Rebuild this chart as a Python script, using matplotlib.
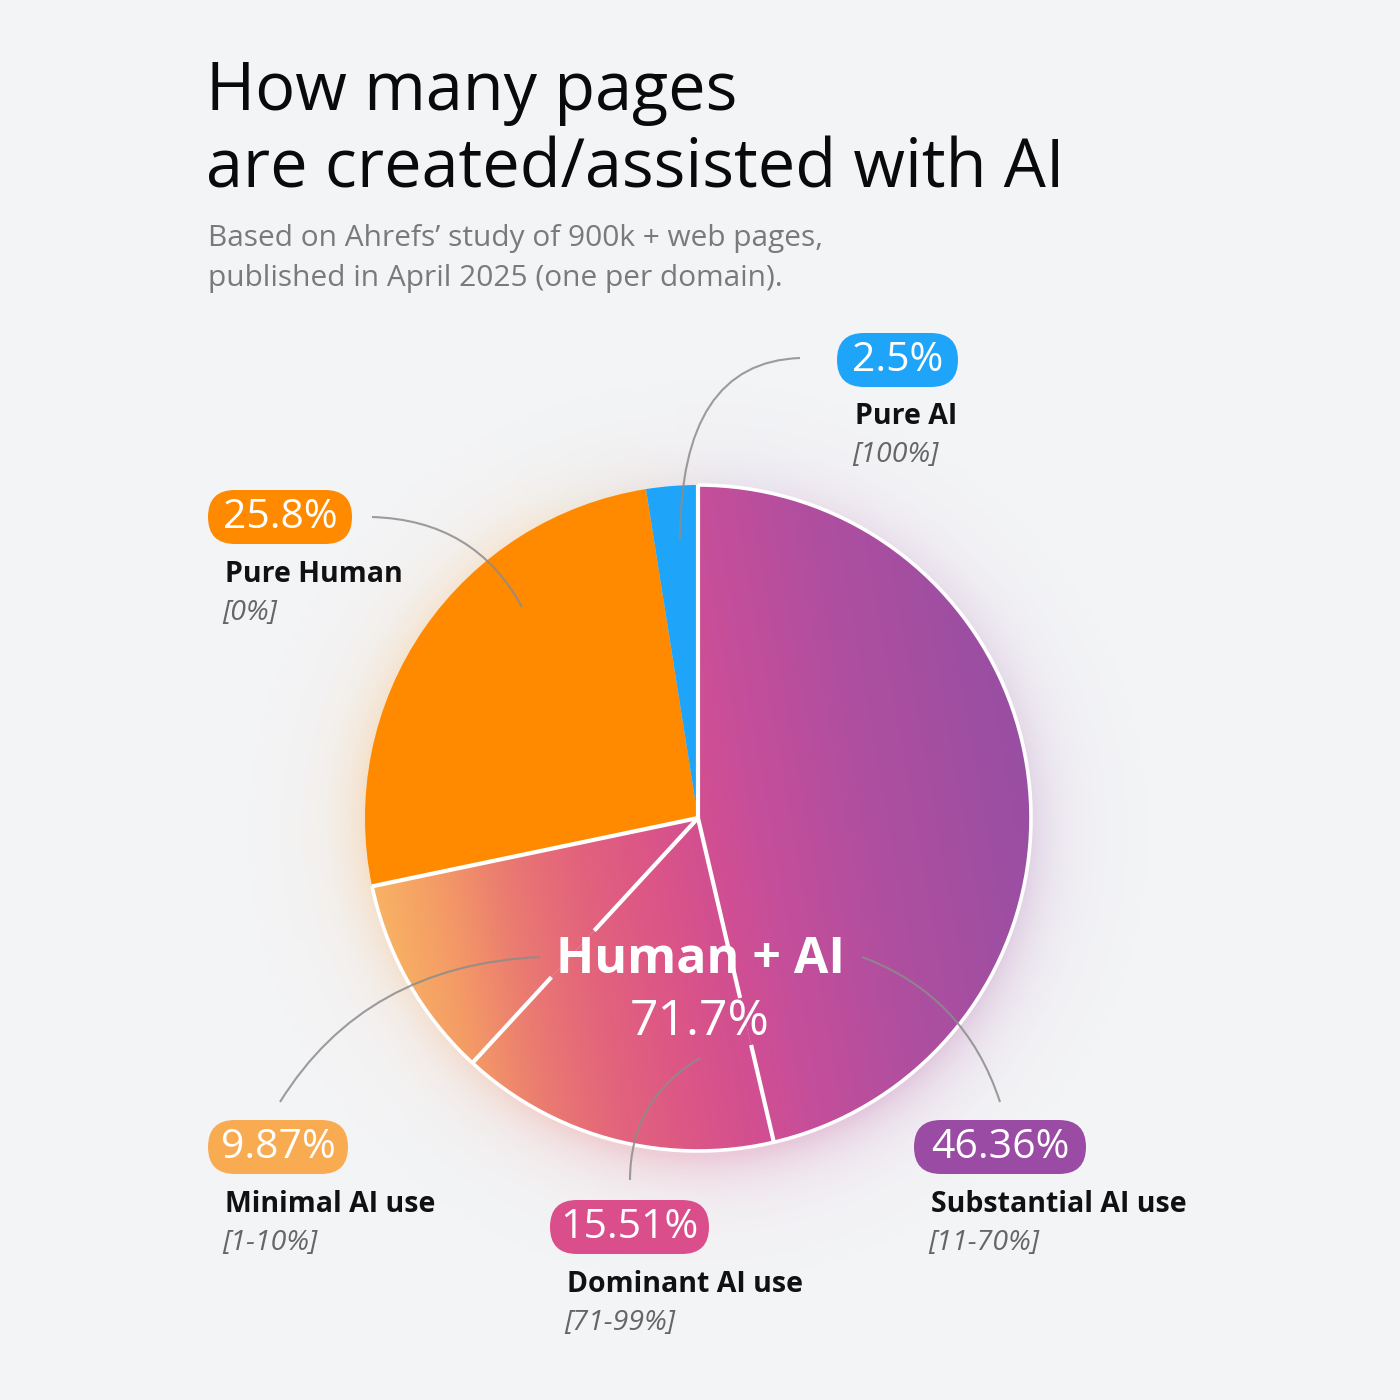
import numpy as np
import matplotlib.pyplot as plt
from matplotlib.colors import LinearSegmentedColormap, to_rgb
from matplotlib.patches import FancyBboxPatch, Arc, PathPatch
from matplotlib.path import Path

# data (clockwise from 12 o'clock)
labels = ['Substantial AI use', 'Dominant AI use', 'Minimal AI use', 'Pure Human', 'Pure AI']
ranges = ['[11-70%]', '[71-99%]', '[1-10%]', '[0%]', '[100%]']
shares = [46.36, 15.51, 9.87, 25.8, 2.5]
badge_txt = ['46.36%', '15.51%', '9.87%', '25.8%', '2.5%']
human_ai_label = 'Human + AI'
human_ai_total = '71.7%'
title = 'How many pages\nare created/assisted with AI'
subtitle = ['Based on Ahrefs\u2019 study of 900k + web pages,',
            'published in April 2025 (one per domain).']

badge_colors = ['#9A4BA4', '#D94E8B', '#F9AB52', '#FF8A00', '#1EA5F9']
slice_colors = ['#B04E9A', '#D94E8B', '#F2A060', '#FF8A00', '#1EA5F9']
n_grad = 3  # first three slices are "Human + AI" and get the gradient

BG = '#F3F4F6'
FONT = ['Open Sans', 'DejaVu Sans']
W = H = 1400


def Y(y):
    # pixel rows (top down) -> data y
    return H - y


fig = plt.figure(figsize=(14, 14), dpi=100, facecolor=BG)
ax = fig.add_axes([0, 0, 1, 1])
ax.set_facecolor(BG)

cx, cy, R = 698, Y(818), 333
grad = LinearSegmentedColormap.from_list(
    'hai', [(0, '#F8B263'), (0.1, '#F49A66'), (0.2, '#EA7A71'), (0.3, '#E3647C'),
            (0.42, '#DB5587'), (0.52, '#D04E93'), (0.6, '#C44F9B'),
            (0.75, '#B04E9F'), (1, '#984EA3')])
g_ang = np.radians(10)  # gradient runs left->right, tilted slightly upward

frac = np.array(shares) / np.sum(shares)
cum = np.concatenate([[0], np.cumsum(frac)]) * 360  # clockwise from top
bound = 90 - cum  # screen angles of slice boundaries


def grad_t(x, y):
    return ((x - cx) * np.cos(g_ang) + (y - cy) * np.sin(g_ang)) / (2 * R) + 0.5


# rim colour by angle, smoothed, for a soft glow under the pie
ang = np.arange(720) / 2.0
phi = np.mod(90 - ang, 360)
idx = np.clip(np.searchsorted(cum, phi, side='right') - 1, 0, len(shares) - 1)
rim = grad(grad_t(cx + R * np.cos(np.radians(ang)), cy + R * np.sin(np.radians(ang))))[:, :3]
for k in range(n_grad, len(shares)):
    rim[idx == k] = to_rgb(slice_colors[k])
ker = np.ones(80) / 80
rim = np.stack([np.convolve(np.concatenate([rim[-40:, c], rim[:, c], rim[:39, c]]),
                            ker, mode='valid') for c in range(3)], axis=1)

gx = np.arange(cx - R - 150, cx + R + 150)
gy = np.arange(cy - R - 170, cy + R + 150)
GX, GY = np.meshgrid(gx, gy)
gcy = cy - 14
d = np.hypot(GX - cx, GY - gcy)
th = np.mod(np.degrees(np.arctan2(GY - gcy, GX - cx)), 360)
rgb = rim[(th * 2).astype(int) % 720]
alpha = 0.26 * np.exp(-np.clip(d - R + 8, 0, None) / 30.0)
glow = np.dstack([rgb, alpha])
ax.imshow(glow, extent=[gx[0], gx[-1], gy[0], gy[-1]], origin='lower',
          zorder=1, interpolation='bilinear')

wedges, _ = ax.pie(shares, startangle=90, counterclock=False,
                   center=(cx, cy), radius=R, colors=slice_colors,
                   wedgeprops=dict(linewidth=0))
for w in wedges:
    w.set_zorder(2)

# gradient fill for the Human + AI slices
gxs = np.linspace(cx - R, cx + R, 400)
gys = np.linspace(cy - R, cy + R, 400)
GX2, GY2 = np.meshgrid(gxs, gys)
gimg = grad_t(GX2, GY2)
for k in range(n_grad):
    wedges[k].set_facecolor('none')
    im = ax.imshow(gimg, cmap=grad, vmin=0, vmax=1,
                   extent=[cx - R, cx + R, cy - R, cy + R],
                   origin='lower', aspect='auto', zorder=3)
    im.set_clip_path(wedges[k])

# white separators (with gaps where the centre text sits)
gaps = {1: (0.555, 0.70), 2: (0.46, 0.65)}
for k in range(0, n_grad + 1):
    a = np.radians(bound[k])
    segs = [(0, 1)]
    if k in gaps:
        g0, g1 = gaps[k]
        segs = [(0, g0), (g1, 1)]
    for r0, r1 in segs:
        ax.plot([cx + r0 * R * np.cos(a), cx + r1 * R * np.cos(a)],
                [cy + r0 * R * np.sin(a), cy + r1 * R * np.sin(a)],
                color='white', lw=3, solid_capstyle='butt', zorder=4)
ax.add_patch(Arc((cx, cy), 2 * R, 2 * R, theta1=bound[n_grad], theta2=90,
                 color='white', lw=2.6, zorder=4))

# leader lines
leaders = [
    [(862, 957), (965, 995), (1000, 1102)],
    [(700, 1058), (630, 1100), (630, 1180)],
    [(540, 957), (365, 965), (280, 1102)],
    [(372, 517), (475, 520), (522, 607)],
    [(800, 358), (680, 362), (680, 540)],
]
for pts in leaders:
    p = Path([(x, Y(y)) for x, y in pts], [Path.MOVETO, Path.CURVE3, Path.CURVE3])
    ax.add_patch(PathPatch(p, fc='none', ec='#8C8C8C', lw=1.5, alpha=0.85, zorder=5))

# centre text
ax.text(cx + 2, Y(960), human_ai_label, ha='center', va='center', color='white',
        fontsize=36, fontweight='bold', family=FONT, zorder=6)
ax.text(cx + 2, Y(1022), human_ai_total, ha='center', va='center', color='white',
        fontsize=36, family=FONT, zorder=6)

# badges and labels: (pill left, pill top, pill width, label x, label baseline)
layout = [
    (914, 1120, 172, 931, 1212),
    (550, 1200, 159, 567, 1292),
    (208, 1120, 140, 225, 1212),
    (208, 490, 144, 225, 582),
    (837, 333, 121, 855, 424),
]
ph = 54
for k, (px, py, pw, lx, ly) in enumerate(layout):
    ax.add_patch(FancyBboxPatch((px, Y(py + ph)), pw, ph,
                                boxstyle='round,pad=0,rounding_size=27',
                                fc=badge_colors[k], ec='none', zorder=6))
    ax.text(px + pw / 2, Y(py + ph / 2) - 1, badge_txt[k], ha='center', va='center',
            color='white', fontsize=29.5, family=FONT, zorder=7)
    ax.text(lx, Y(ly), labels[k], ha='left', va='baseline', color='#111111',
            fontsize=20.5, fontweight='bold', family=FONT, zorder=7)
    ax.text(lx - 3, Y(ly + 38), ranges[k], ha='left', va='baseline', color='#666666',
            fontsize=20.5, style='italic', family=FONT, zorder=7)

# title and subtitle
t1, t2 = title.split('\n')
ax.text(206, Y(110), t1, ha='left', va='baseline', fontsize=48, color='#0A0A0A',
        family=FONT)
ax.text(206, Y(188), t2, ha='left', va='baseline', fontsize=48, color='#0A0A0A',
        family=FONT)
ax.text(208, Y(246), subtitle[0], ha='left', va='baseline', fontsize=21.5,
        color='#7A7A7A', family=FONT)
ax.text(208, Y(286), subtitle[1], ha='left', va='baseline', fontsize=21.5,
        color='#7A7A7A', family=FONT)

ax.set_xlim(0, W)
ax.set_ylim(0, H)
ax.set_aspect('equal')
ax.axis('off')

fig.savefig('out.png', dpi=100, facecolor=BG)
